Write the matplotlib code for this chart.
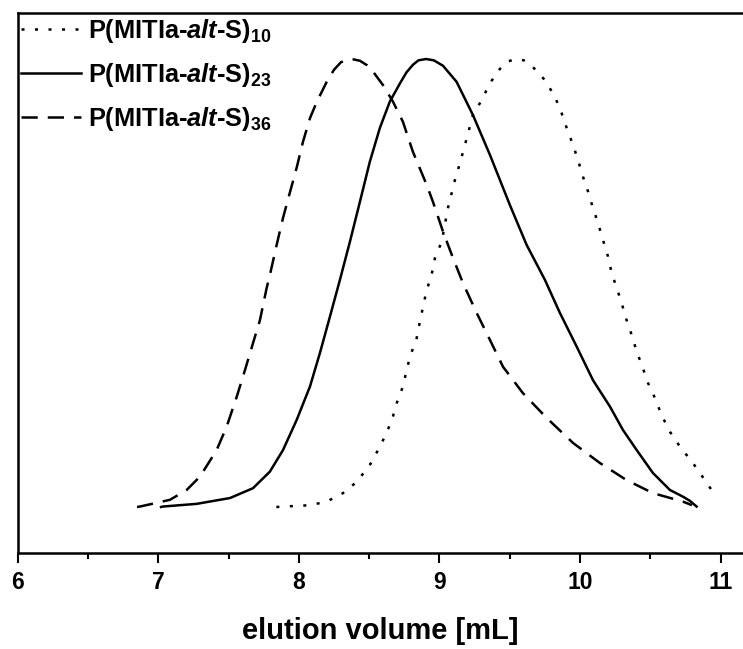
import matplotlib
matplotlib.use('Agg')
import matplotlib.pyplot as plt
from matplotlib.ticker import MultipleLocator

plt.rcParams['font.family'] = ['Liberation Sans', 'DejaVu Sans']
plt.rcParams['font.weight'] = 'bold'
plt.rcParams['mathtext.fontset'] = 'custom'
plt.rcParams['mathtext.rm'] = 'Liberation Sans:bold'
plt.rcParams['mathtext.it'] = 'Liberation Sans:italic:bold'
plt.rcParams['mathtext.bf'] = 'Liberation Sans:bold'

# normalised SEC traces (elution volume in mL, intensity)
vol_10 = [7.84, 7.958, 8.079, 8.198, 8.314, 8.411, 8.505, 8.563, 8.624, 8.669,
          8.696, 8.74, 8.767, 8.79, 8.838, 8.861, 8.883, 8.909, 8.944, 8.968,
          9.016, 9.06, 9.11, 9.146, 9.181, 9.238, 9.3, 9.359, 9.43, 9.49, 9.549,
          9.60, 9.656, 9.75, 9.821, 9.869, 9.905, 9.95, 9.985, 10.021, 10.057, 10.092,
          10.128, 10.163, 10.199, 10.225, 10.261, 10.296, 10.331, 10.367, 10.403, 10.447,
          10.483, 10.533, 10.58, 10.639, 10.71, 10.803, 10.888, 10.959]
sig_10 = [0.0, 0.002, 0.004, 0.012, 0.031, 0.056, 0.094, 0.127, 0.165, 0.202,
          0.232, 0.269, 0.306, 0.335, 0.377, 0.414, 0.447, 0.484, 0.518, 0.556,
          0.592, 0.667, 0.73, 0.768, 0.808, 0.875, 0.908, 0.946, 0.978, 0.995, 1.0,
          0.997, 0.985, 0.953, 0.916, 0.879, 0.846, 0.808, 0.775, 0.737, 0.704, 0.667,
          0.634, 0.596, 0.559, 0.522, 0.489, 0.455, 0.417, 0.384, 0.347, 0.31,
          0.277, 0.243, 0.205, 0.168, 0.135, 0.098, 0.06, 0.027]

vol_23 = [7.02, 7.033, 7.273, 7.51, 7.674, 7.794, 7.887, 7.984, 8.079, 8.15,
          8.221, 8.292, 8.363, 8.434, 8.505, 8.576, 8.647, 8.718, 8.765, 8.811, 8.85,
          8.905, 8.96, 9.025, 9.122, 9.238, 9.359, 9.501, 9.62, 9.75, 9.857, 9.976,
          10.092, 10.213, 10.305, 10.403, 10.518, 10.639, 10.732, 10.78, 10.829]
sig_23 = [0.0, 0.001, 0.007, 0.02, 0.042, 0.079, 0.127, 0.194, 0.269, 0.344,
          0.425, 0.507, 0.592, 0.681, 0.771, 0.846, 0.905, 0.945, 0.970, 0.987, 0.997,
          1.0, 0.997, 0.985, 0.949, 0.875, 0.786, 0.674, 0.585, 0.507, 0.433, 0.358,
          0.283, 0.224, 0.172, 0.127, 0.076, 0.038, 0.023, 0.014, 0.001]

vol_36 = [6.849, 6.87, 7.083, 7.202, 7.297, 7.415, 7.486, 7.558, 7.617, 7.674,
          7.723, 7.771, 7.794, 7.842, 7.887, 7.937, 7.984, 8.029, 8.079, 8.127,
          8.198, 8.25, 8.30, 8.376, 8.435, 8.485, 8.527, 8.598, 8.669, 8.74, 8.811, 8.909,
          8.954, 9.025, 9.096, 9.167, 9.265, 9.359, 9.452, 9.594, 9.762, 9.95,
          10.142, 10.331, 10.518, 10.732, 10.796]
sig_36 = [0.0, 0.001, 0.016, 0.038, 0.068, 0.127, 0.179, 0.246, 0.306, 0.366,
          0.417, 0.489, 0.518, 0.585, 0.645, 0.703, 0.757, 0.815, 0.868, 0.904,
          0.949, 0.976, 0.993, 1.0, 0.996, 0.986, 0.972, 0.942, 0.905, 0.86, 0.793, 0.719,
          0.681, 0.615, 0.556, 0.5, 0.433, 0.373, 0.313, 0.254, 0.199, 0.143,
          0.098, 0.06, 0.031, 0.012, 0.004]

labels = [r'P(MITIa-$\mathit{alt}$-S)$_{10}$',
          r'P(MITIa-$\mathit{alt}$-S)$_{23}$',
          r'P(MITIa-$\mathit{alt}$-S)$_{36}$']

fig = plt.figure(figsize=(7.43, 6.49), dpi=100)
ax = fig.add_axes([0.0238, 0.1484, 0.9762, 0.8311])

lw = 1.8
ax.plot(vol_10, sig_10, color='black', lw=lw, linestyle=(0, (1.2, 4.2)), label=labels[0])
ax.plot(vol_23, sig_23, color='black', lw=lw, linestyle='-', label=labels[1])
ax.plot(vol_36, sig_36, color='black', lw=lw, linestyle=(0, (6.5, 4)), label=labels[2])

ax.set_xlim(6, 11.159)
ax.set_ylim(-0.102, 1.102)
ax.xaxis.set_major_locator(MultipleLocator(1))
ax.xaxis.set_minor_locator(MultipleLocator(0.5))
ax.set_yticks([])
ax.tick_params(axis='x', which='major', direction='out', length=7, width=1.5,
               labelsize=16.5, pad=6.5)
ax.tick_params(axis='x', which='minor', direction='out', length=4, width=1.5)
for s in ['left', 'top', 'bottom']:
    ax.spines[s].set_linewidth(1.8)
ax.spines['right'].set_visible(False)

ax.set_xlabel('elution volume [mL]', fontsize=21, fontweight='bold', labelpad=16)

ax.legend(loc='upper left', frameon=False, fontsize=18.3, handlelength=2.35,
          handletextpad=0.25, labelspacing=0.62, borderaxespad=0.0,
          borderpad=0.15)

plt.savefig('out.png', dpi=100)
